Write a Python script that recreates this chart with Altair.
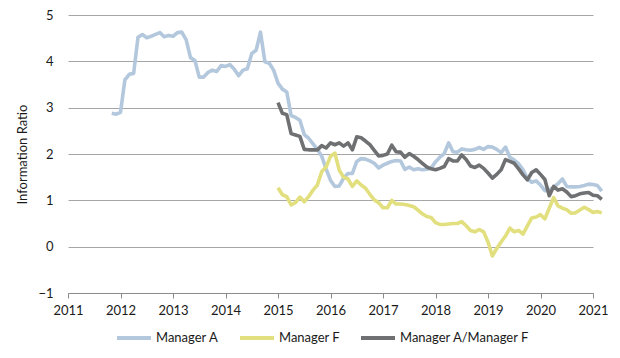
import altair as alt
import pandas as pd

# Monthly values
manager_a_start = 2011 + 10 / 12  # Nov 2011
manager_a = [
    2.88, 2.86, 2.90, 3.60, 3.72, 3.74, 4.52, 4.58, 4.51, 4.54,
    4.58, 4.62, 4.53, 4.56, 4.54, 4.62, 4.63, 4.47, 4.08, 4.02,
    3.66, 3.66, 3.76, 3.81, 3.78, 3.91, 3.89, 3.93, 3.83, 3.69,
    3.81, 3.84, 4.17, 4.24, 4.63, 3.99, 3.96, 3.81, 3.53, 3.40,
    3.34, 2.83, 2.79, 2.73, 2.42, 2.34, 2.22, 2.10, 1.95, 1.68,
    1.43, 1.30, 1.31, 1.48, 1.58, 1.58, 1.84, 1.90, 1.89, 1.85,
    1.80, 1.70, 1.76, 1.80, 1.84, 1.86, 1.85, 1.67, 1.72, 1.66,
    1.68, 1.66, 1.67, 1.70, 1.83, 1.93, 2.01, 2.24, 2.05, 2.04,
    2.11, 2.09, 2.08, 2.10, 2.14, 2.10, 2.16, 2.15, 2.10, 2.03,
    2.15, 1.93, 1.87, 1.79, 1.66, 1.47, 1.39, 1.42, 1.33, 1.21,
    1.22, 1.28, 1.36, 1.46, 1.30, 1.29, 1.29, 1.30, 1.32, 1.35,
    1.34, 1.32, 1.20,
]

manager_f_start = 2015.0  # Jan 2015
manager_f = [
    1.27, 1.12, 1.08, 0.90, 0.95, 1.07, 0.97, 1.08, 1.22, 1.33,
    1.62, 1.72, 1.95, 2.02, 1.65, 1.50, 1.46, 1.30, 1.42, 1.33,
    1.26, 1.13, 1.01, 0.95, 0.84, 0.84, 1.00, 0.92, 0.92, 0.91,
    0.89, 0.86, 0.79, 0.71, 0.65, 0.63, 0.52, 0.48, 0.48, 0.49,
    0.50, 0.50, 0.54, 0.45, 0.35, 0.32, 0.37, 0.32, 0.10, -0.20,
    -0.04, 0.10, 0.23, 0.40, 0.32, 0.35, 0.27, 0.45, 0.62, 0.64,
    0.69, 0.60, 0.83, 1.06, 0.88, 0.83, 0.80, 0.72, 0.73, 0.79,
    0.85, 0.80, 0.74, 0.76, 0.73,
]

manager_af_start = 2015.0  # Jan 2015
manager_af = [
    3.11, 2.88, 2.85, 2.44, 2.41, 2.38, 2.10, 2.09, 2.09, 2.09,
    2.18, 2.13, 2.24, 2.20, 2.24, 2.17, 2.24, 2.09, 2.37, 2.35,
    2.28, 2.20, 2.08, 1.96, 1.97, 2.00, 2.19, 2.05, 2.04, 1.93,
    2.01, 1.95, 1.88, 1.80, 1.72, 1.68, 1.66, 1.69, 1.73, 1.90,
    1.85, 1.85, 1.98, 1.88, 1.74, 1.71, 1.76, 1.69, 1.59, 1.48,
    1.56, 1.66, 1.88, 1.84, 1.80, 1.68, 1.55, 1.44, 1.60, 1.66,
    1.56, 1.45, 1.10, 1.30, 1.22, 1.25, 1.18, 1.08, 1.10, 1.14,
    1.16, 1.17, 1.11, 1.10, 1.02,
]

series_names = ["Manager A", "Manager F", "Manager A/Manager F"]
series_colors = ["#b3c7dd", "#e2df7f", "#6f7072"]
x_ticks = list(range(2011, 2022))
y_ticks = [-1, 0, 1, 2, 3, 4, 5]

rows = []
for name, start, vals in [
    (series_names[0], manager_a_start, manager_a),
    (series_names[1], manager_f_start, manager_f),
    (series_names[2], manager_af_start, manager_af),
]:
    for i, v in enumerate(vals):
        rows.append({"series": name, "t": start + i / 12, "value": v, "order": i})
df = pd.DataFrame(rows)

FONT = "Lato"
TXT = "#1a1a1a"

chart = (
    alt.Chart(df)
    .mark_line(strokeWidth=3.6, clip=False, strokeJoin="round", strokeCap="butt")
    .encode(
        x=alt.X(
            "t:Q",
            scale=alt.Scale(domain=[2011, 2021], nice=False, zero=False),
            axis=alt.Axis(
                values=x_ticks,
                format="d",
                title=None,
                grid=False,
                domainColor="#8c8c8c",
                tickColor="#8c8c8c",
                tickSize=5,
                labelPadding=6,
                labelFlush=False,
                labelFontSize=13,
                labelColor=TXT,
                labelFont=FONT,
            ),
        ),
        y=alt.Y(
            "value:Q",
            scale=alt.Scale(domain=[-1, 5], nice=False, zero=False),
            axis=alt.Axis(
                values=y_ticks,
                format="d",
                title="Information Ratio",
                titleFontSize=13,
                titleFontWeight="normal",
                titleColor=TXT,
                titleFont=FONT,
                titlePadding=8,
                domain=False,
                ticks=False,
                gridColor="#a6a6a6",
                gridWidth=1,
                labelPadding=15,
                labelFlush=False,
                labelFontSize=13,
                labelColor=TXT,
                labelFont=FONT,
            ),
        ),
        color=alt.Color(
            "series:N",
            scale=alt.Scale(domain=series_names, range=series_colors),
            sort=series_names,
            legend=alt.Legend(
                title=None,
                orient="none",
                direction="horizontal",
                legendX=47,
                legendY=304,
                symbolType="stroke",
                symbolSize=1156,
                symbolStrokeWidth=4,
                labelFontSize=13,
                labelFont=FONT,
                labelColor=TXT,
                labelOffset=3,
                columnPadding=13,
                padding=0,
            ),
        ),
        order="order:Q",
    )
    .properties(
        width=525,
        height=278,
        autosize=alt.AutoSizeParams(type="none"),
        padding={"left": 60, "top": 7, "right": 19, "bottom": 57},
    )
    .configure_view(stroke=None)
)

chart.save("out.html", embed_options={"renderer": "svg", "actions": False})
